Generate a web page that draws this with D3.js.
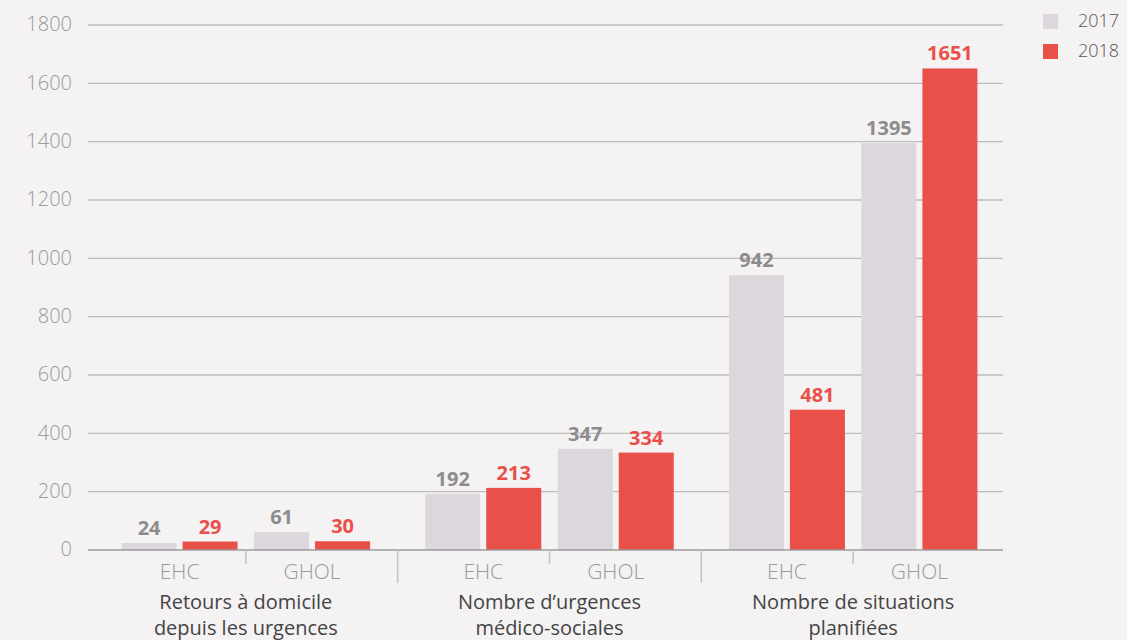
<!DOCTYPE html>
<html>
<head>
<meta charset="utf-8">
<script src="https://cdn.jsdelivr.net/npm/d3@7"></script>
<style>
  body { margin: 0; background: #f4f2f3; }
  svg { display: block; font-family: "Open Sans", sans-serif; }
</style>
</head>
<body>
<div id="chart"></div>
<script>
var groups = [["Retours à domicile", "depuis les urgences"],
              ["Nombre d\u2019urgences", "médico-sociales"],
              ["Nombre de situations", "planifiées"]];
var sites = ["EHC", "GHOL"];
var years = ["2017", "2018"];
var values2017 = [24, 61, 192, 347, 942, 1395];
var values2018 = [29, 30, 213, 334, 481, 1651];
var yTicks = [0, 200, 400, 600, 800, 1000, 1200, 1400, 1600, 1800];

var width = 1127, height = 640,
    color = {"2017": "#dcd7dc", "2018": "#e9504a"},
    labelColor = {"2017": "#8c8c8c", "2018": "#e9504a"};

var data = [];
groups.forEach(function(g, gi) {
  sites.forEach(function(s, si) {
    var k = gi * 2 + si;
    data.push({group: gi, site: s, year: "2017", value: values2017[k]});
    data.push({group: gi, site: s, year: "2018", value: values2018[k]});
  });
});

var svg = d3.select("#chart").append("svg")
    .attr("width", width).attr("height", height);

var x0 = d3.scaleBand().domain(d3.range(groups.length)).range([94, 1005]);
var x1 = d3.scaleBand().domain(sites).range([0, x0.bandwidth()]).paddingOuter(0.146);
var x2 = d3.scaleBand().domain(years).range([0, x1.bandwidth()])
    .paddingInner(0.098).paddingOuter(0.135);
var y = d3.scaleLinear().domain([0, 1800]).range([550, 25]);

// grid
svg.append("g").selectAll("line")
  .data(yTicks.filter(function(d) { return d > 0; }))
  .enter().append("line")
    .attr("x1", 88).attr("x2", 1003)
    .attr("y1", function(d) { return y(d); })
    .attr("y2", function(d) { return y(d); })
    .attr("stroke", "#bdbbbc").attr("stroke-width", 1.3);

svg.append("g").selectAll("text")
  .data(yTicks).enter().append("text")
    .attr("x", 72).attr("y", function(d) { return y(d) + 1; })
    .attr("text-anchor", "end").attr("dominant-baseline", "middle")
    .attr("fill", "#9a9a9a").attr("font-size", 20).attr("font-weight", 300)
    .text(function(d) { return d; });

// bars
svg.append("g").selectAll("rect")
  .data(data).enter().append("rect")
    .attr("x", function(d) { return x0(d.group) + x1(d.site) + x2(d.year); })
    .attr("y", function(d) { return y(d.value); })
    .attr("width", x2.bandwidth())
    .attr("height", function(d) { return y(0) - y(d.value); })
    .attr("fill", function(d) { return color[d.year]; });

svg.append("g").selectAll("text")
  .data(data).enter().append("text")
    .attr("x", function(d) { return x0(d.group) + x1(d.site) + x2(d.year) + x2.bandwidth() / 2; })
    .attr("y", function(d) { return y(d.value) - 8; })
    .attr("text-anchor", "middle")
    .attr("fill", function(d) { return labelColor[d.year]; })
    .attr("font-size", 20).attr("font-weight", 700)
    .text(function(d) { return d.value; });

// x axis
svg.append("line")
    .attr("x1", 88).attr("x2", 1003).attr("y1", y(0)).attr("y2", y(0))
    .attr("stroke", "#9c9c9c").attr("stroke-width", 1.3);

// separators between groups and sites
var seps = svg.append("g").attr("stroke", "#c4c2c3").attr("stroke-width", 1.5);
d3.range(1, groups.length).forEach(function(i) {
  seps.append("line").attr("x1", x0(i)).attr("x2", x0(i))
    .attr("y1", y(0)).attr("y2", 583);
});
d3.range(groups.length).forEach(function(i) {
  var sx = x0(i) + x0.bandwidth() / 2;
  seps.append("line").attr("x1", sx).attr("x2", sx)
    .attr("y1", y(0)).attr("y2", 564);
});

// site labels
svg.append("g").selectAll("text")
  .data(data.filter(function(d) { return d.year === "2017"; }))
  .enter().append("text")
    .attr("x", function(d) { return x0(d.group) + x1(d.site) + x1.bandwidth() / 2; })
    .attr("y", 579)
    .attr("text-anchor", "middle")
    .attr("fill", "#9a9a9a").attr("font-size", 21).attr("font-weight", 300)
    .text(function(d) { return d.site; });

// group labels
var gl = svg.append("g").selectAll("text")
  .data(groups).enter().append("text")
    .attr("text-anchor", "middle")
    .attr("fill", "#444").attr("font-size", 20).attr("font-weight", 500);
gl.selectAll("tspan")
  .data(function(d, i) { return d.map(function(t) { return {t: t, i: i}; }); })
  .enter().append("tspan")
    .attr("x", function(d) { return x0(d.i) + x0.bandwidth() / 2; })
    .attr("y", function(d, j) { return 609 + j * 26; })
    .text(function(d) { return d.t; });

// legend
var legend = svg.append("g").selectAll("g")
  .data(years).enter().append("g")
    .attr("transform", function(d, i) { return "translate(1043," + (14 + i * 30) + ")"; });
legend.append("rect").attr("width", 15).attr("height", 15)
    .attr("fill", function(d) { return color[d]; });
legend.append("text").attr("x", 35).attr("y", 8)
    .attr("dominant-baseline", "middle")
    .attr("fill", "#555").attr("font-size", 18).attr("font-weight", 300)
    .text(function(d) { return d; });
</script>
</body>
</html>
